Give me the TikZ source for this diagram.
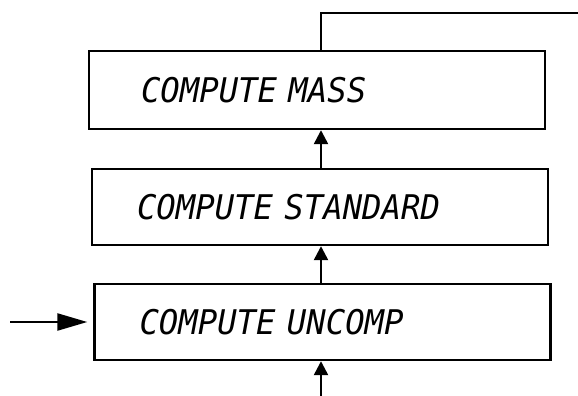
\documentclass[tikz,border=0pt]{standalone}
\usepackage{fontspec}
\usepackage{tikz}
\usetikzlibrary{arrows.meta}
\newfontfamily\lcdfont[FakeStretch=0.95]{DejaVu Sans Mono}

\tikzset{
  stagebox/.style={draw, line width=2.4pt, inner xsep=0pt, minimum width=456pt,
    minimum height=76pt, text width=#1, align=left,
    font=\lcdfont\itshape\fontsize{34}{38}\selectfont},
  flow/.style={line width=2.4pt, -{Triangle[length=14pt,width=14pt]}},
  feedin/.style={line width=2.4pt, -{Triangle[length=30pt,width=17pt]}}
}

\begin{document}
\begin{tikzpicture}[x=1pt, y=-1pt]
  \useasboundingbox (0,0) rectangle (578,396);
  \node[stagebox=352pt, minimum height=78pt] (mass) at (317,90) {COMPUTE MASS};
  \node[stagebox=366pt] (standard) at (320,207) {COMPUTE STANDARD};
  \node[stagebox=366pt] (uncomp) at (322.5,322) {COMPUTE UNCOMP};
  \coordinate (feed) at (321,396);
  \coordinate (inlet) at (10,322);
  \coordinate (exit) at (578,13);
  % vertical chain
  \draw[flow] (feed) -- (feed |- uncomp.south);
  \draw[flow] (uncomp.north -| feed) -- (standard.south -| feed);
  \draw[flow] (standard.north -| feed) -- (mass.south -| feed);
  \draw[line width=2.4pt] (mass.north -| feed) |- (exit);
  % side input
  \draw[feedin] (inlet) -- ([xshift=-6pt]uncomp.west);
\end{tikzpicture}
\end{document}
